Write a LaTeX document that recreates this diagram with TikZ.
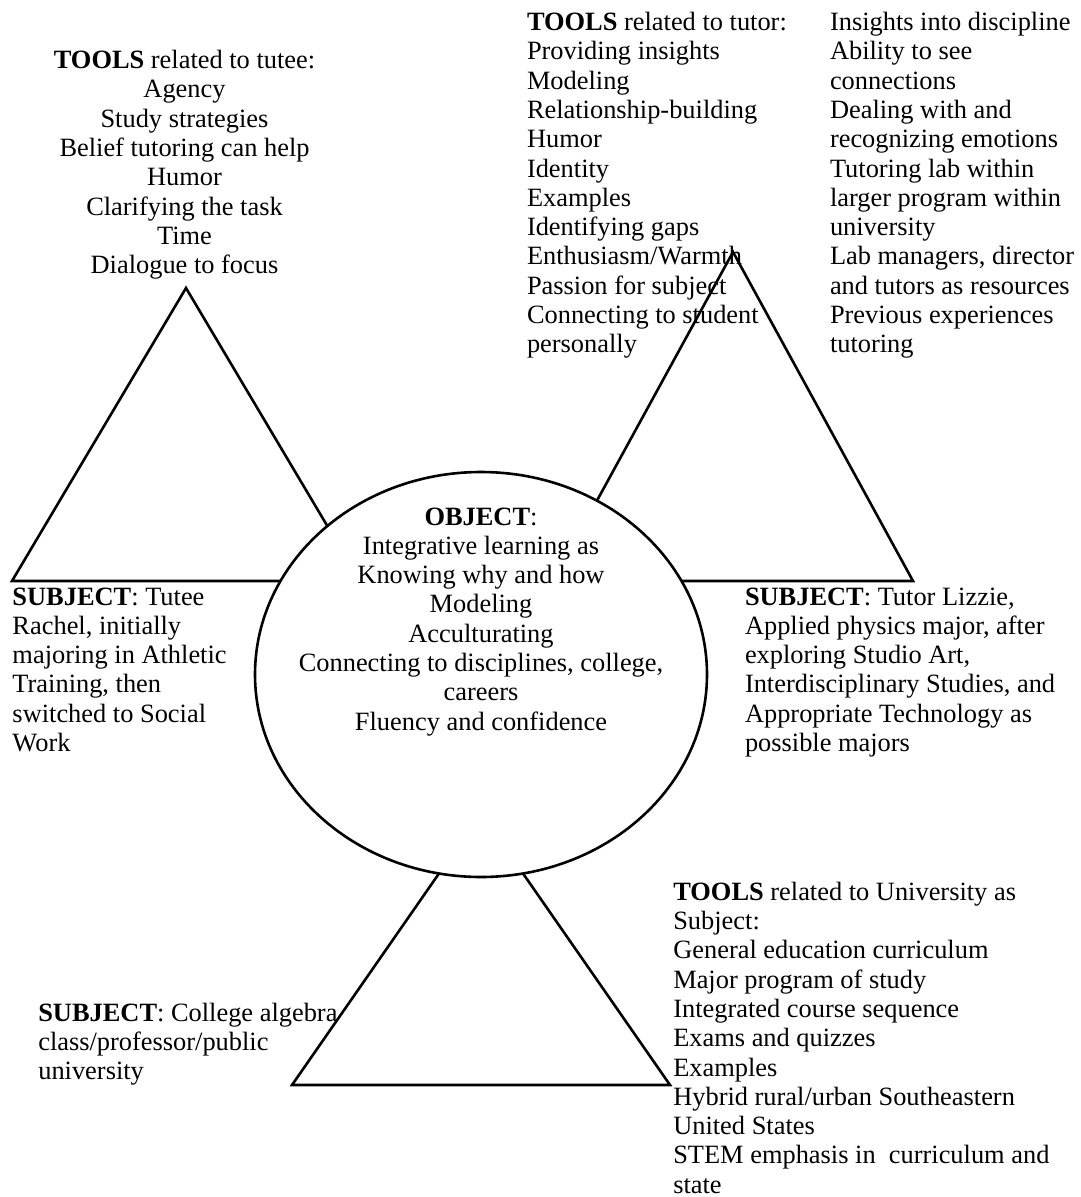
\documentclass[tikz,border=0pt]{standalone}
\usepackage{fontspec}
\setmainfont{Liberation Serif}
\begin{document}
\begin{tikzpicture}[x=1pt,y=-1pt,
  every node/.style={inner sep=0pt, outer sep=0pt, font=\fontsize{26.4}{29.3}\selectfont},
  edge/.style={line width=2.6pt, line join=miter},
  % multi-line nodes are anchored at the baseline of their last line
  listleft/.style={align=left, anchor=base west},
  listcenter/.style={align=center, anchor=base}]
\useasboundingbox (0,0) rectangle (1081,1197);

% triangle corners
\coordinate (tlA) at (186,288);   \coordinate (tlL) at (12,581);   \coordinate (tlR) at (360,581);
\coordinate (trA) at (733,252);   \coordinate (trL) at (553,581);  \coordinate (trR) at (913,581);
\coordinate (bA)  at (481,813);   \coordinate (bL)  at (292,1085); \coordinate (bR)  at (670,1085);

% the three activity triangles
\draw[edge] (tlA) -- (tlL) -- (tlR) -- cycle;
\draw[edge] (trA) -- (trL) -- (trR) -- cycle;
\draw[edge] (bA) -- (bL) -- (bR) -- cycle;

% shared object in the middle
\coordinate (objc) at (481,674.5);
\draw[edge, fill=white] (objc) ellipse [x radius=226, y radius=202.5];

% texts
\node[listcenter] (tuteetools) at (184.5,273.6)
  {\textbf{TOOLS} related to tutee:\\Agency\\Study strategies\\Belief tutoring can help\\Humor\\Clarifying the task\\Time\\Dialogue to focus};

\node[listleft] (tutortools) at (527,352.8)
  {\textbf{TOOLS} related to tutor:\\Providing insights\\Modeling\\Relationship-building\\Humor\\Identity\\Examples\\Identifying gaps\\Enthusiasm/Warmth\\Passion for subject\\Connecting to student\\personally};

\node[listleft] (tutortools2) at (830,352.8)
  {Insights into discipline\\Ability to see\\connections\\Dealing with and\\recognizing emotions\\Tutoring lab within\\larger program within\\university\\Lab managers, director\\and tutors as resources\\Previous experiences\\tutoring};

\node[listleft] (tuteesubj) at (12.5,751.5)
  {\textbf{SUBJECT}: Tutee\\Rachel, initially\\majoring in Athletic\\Training, then\\switched to Social\\Work};

\node[listcenter] (objtext) at (481,730.1)
  {\textbf{OBJECT}:\\Integrative learning as\\Knowing why and how\\Modeling\\Acculturating\\Connecting to disciplines, college,\\careers\\Fluency and confidence};

\node[listleft] (tutorsubj) at (745,751.5)
  {\textbf{SUBJECT}: Tutor Lizzie,\\Applied physics major, after\\exploring Studio Art,\\Interdisciplinary Studies, and\\Appropriate Technology as\\possible majors};

\node[listleft] (univtools) at (673.3,1193.2)
  {\textbf{TOOLS} related to University as\\Subject:\\General education curriculum\\Major program of study\\Integrated course sequence\\Exams and quizzes\\Examples\\Hybrid rural/urban Southeastern\\United States\\STEM emphasis in\ \ curriculum and\\state};

\node[listleft] (classsubj) at (38.3,1079.6)
  {\textbf{SUBJECT}: College algebra\\class/professor/public\\university};
\end{tikzpicture}
\end{document}
